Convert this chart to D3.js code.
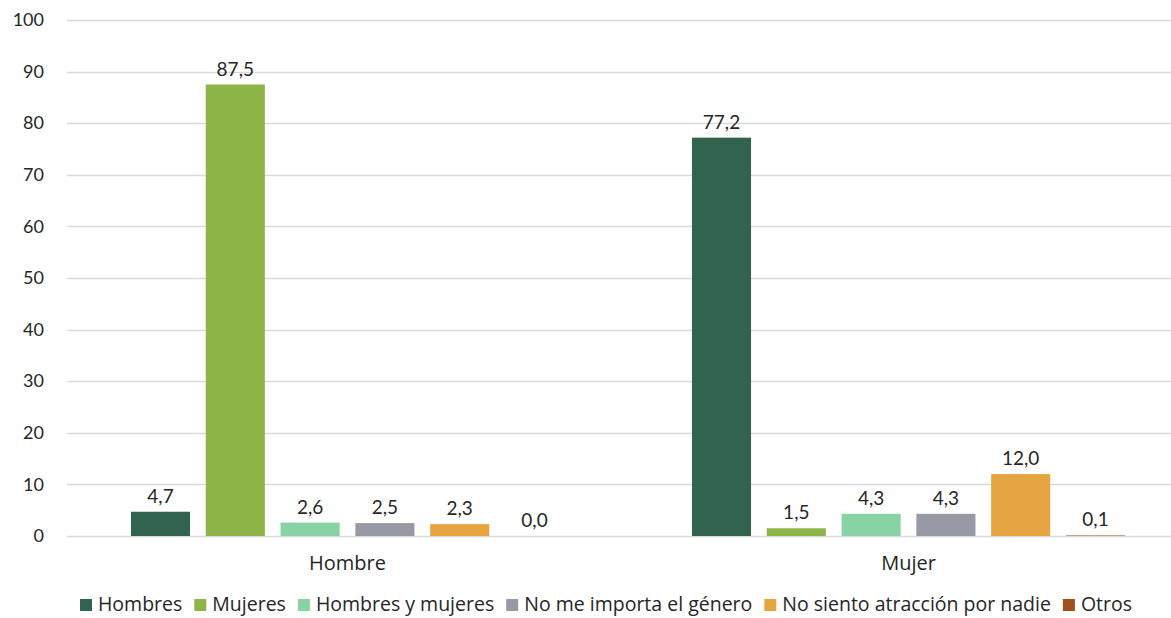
<!DOCTYPE html>
<html><head><meta charset="utf-8">
<script src="https://cdn.jsdelivr.net/npm/d3@7"></script>
<style>
html,body{margin:0;padding:0;background:#fff;}
svg{display:block;font-family:"Open Sans",Lato,sans-serif;}
</style></head>
<body>
<svg id="chart" width="1171" height="618"></svg>
<script>
const groups = ["Hombre", "Mujer"];
const series = ["Hombres", "Mujeres", "Hombres y mujeres", "No me importa el género", "No siento atracción por nadie", "Otros"];
const colors = ["#31634f", "#8db447", "#88d3a4", "#979aa5", "#e6a541", "#a0521c"];
const valuesHombre = [4.7, 87.5, 2.6, 2.5, 2.3, 0.0];
const valuesMujer = [77.2, 1.5, 4.3, 4.3, 12.0, 0.1];
const yTicks = [0, 10, 20, 30, 40, 50, 60, 70, 80, 90, 100];

const data = groups.map((g, i) => ({group: g, values: [valuesHombre, valuesMujer][i]}));

const svg = d3.select("#chart");
const W = 1171;
const y = d3.scaleLinear().domain([0, 100]).range([536, 20]);
const x0 = d3.scaleBand().domain(groups).range([67, 1189]).paddingInner(0.2).paddingOuter(0.1);
const x1 = d3.scaleBand().domain(series).range([0, x0.bandwidth()]).paddingInner(0.21).paddingOuter(0.105);
const color = d3.scaleOrdinal().domain(series).range(colors);
const fmt = v => d3.format(".1f")(v).replace(".", ",");

// gridlines
svg.append("g").selectAll("line").data(yTicks).join("line")
  .attr("x1", 67).attr("x2", W)
  .attr("y1", d => Math.round(y(d)) + 0.5).attr("y2", d => Math.round(y(d)) + 0.5)
  .attr("stroke", "#d9d9d9").attr("stroke-width", 1.3);

// y axis
const yAxis = d3.axisLeft(y).tickValues(yTicks).tickSize(0).tickPadding(0);
const ya = svg.append("g").attr("transform", "translate(44,0)").call(yAxis);
ya.select(".domain").remove();
ya.selectAll("text").attr("font-size", 18).attr("fill", "#262626").attr("font-family", "Lato,'Open Sans',sans-serif");

// bars
const gg = svg.append("g").selectAll("g").data(data).join("g")
  .attr("transform", d => `translate(${x0(d.group)},0)`);
gg.selectAll("rect").data(d => d.values.map((v, i) => ({s: series[i], v}))).join("rect")
  .attr("x", d => x1(d.s)).attr("width", x1.bandwidth())
  .attr("y", d => y(d.v)).attr("height", d => y(0) - y(d.v))
  .attr("fill", d => color(d.s));
gg.selectAll("text").data(d => d.values.map((v, i) => ({s: series[i], v}))).join("text")
  .attr("x", d => x1(d.s) + x1.bandwidth() / 2)
  .attr("y", d => y(d.v) - 9)
  .attr("text-anchor", "middle").attr("font-size", 19).attr("fill", "#262626")
  .attr("font-family", "Lato,'Open Sans',sans-serif")
  .text(d => fmt(d.v));

// x axis labels
const xAxis = d3.axisBottom(x0).tickSize(0).tickPadding(0);
const xa = svg.append("g").attr("transform", "translate(0,556)").call(xAxis);
xa.select(".domain").remove();
xa.selectAll("text").attr("font-size", 20).attr("fill", "#262626").attr("font-family", "'Open Sans',Lato,sans-serif");

// legend
const lg = svg.append("g").attr("transform", "translate(0,604)");
const items = lg.selectAll("g").data(series).join("g");
items.append("rect").attr("width", 12).attr("height", 12).attr("y", -5).attr("fill", d => color(d));
items.append("text").attr("x", 18).attr("dy", "0.35em").attr("font-size", 19.5).attr("fill", "#262626").text(d => d);
let widths = [];
items.each(function(){ widths.push(18 + d3.select(this).select("text").node().getComputedTextLength()); });
const gap = 12;
const total = d3.sum(widths) + gap * (widths.length - 1);
let cx = 606 - total / 2;
items.attr("transform", (d, i) => { const t = `translate(${cx},0)`; cx += widths[i] + gap; return t; });
</script>
</body></html>
